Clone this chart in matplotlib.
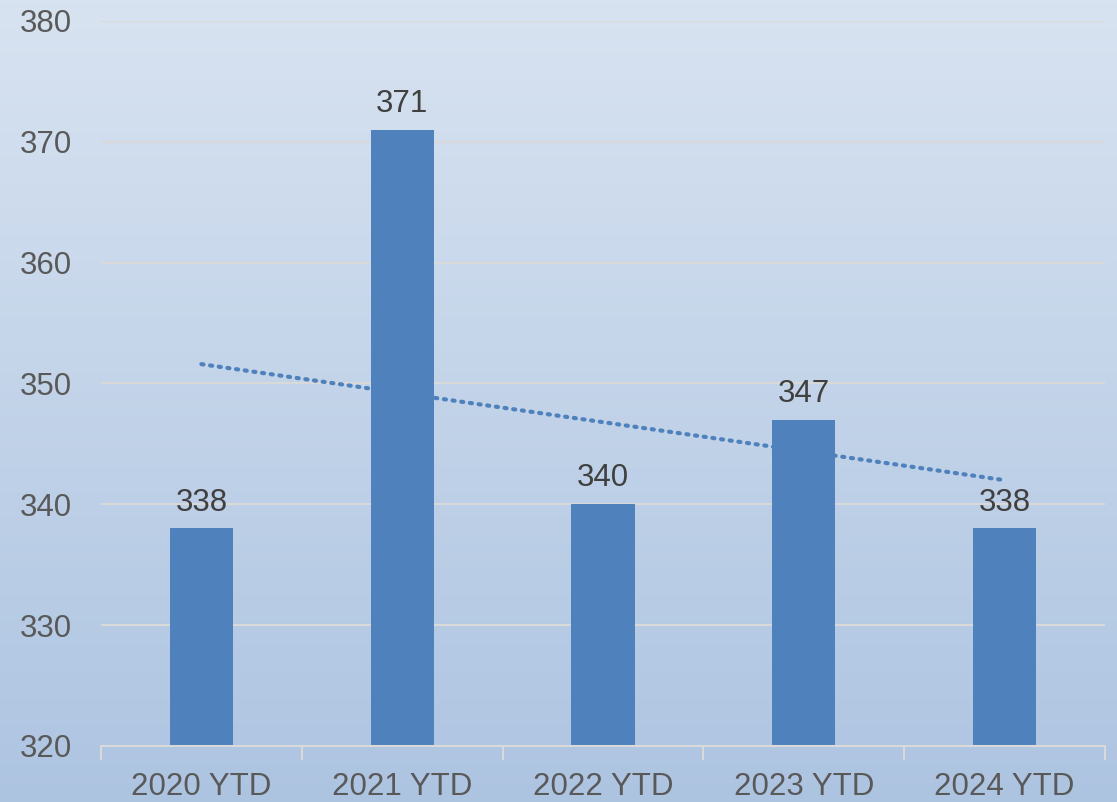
import numpy as np
import matplotlib.pyplot as plt
from matplotlib.colors import LinearSegmentedColormap

# Data
categories = ['2020 YTD', '2021 YTD', '2022 YTD', '2023 YTD', '2024 YTD']
values = [338, 371, 340, 347, 338]
y_ticks = [320, 330, 340, 350, 360, 370, 380]

plt.rcParams['font.family'] = ['Liberation Sans', 'DejaVu Sans']

fig = plt.figure(figsize=(11.17, 8.02), dpi=100)

# gradient background over the whole figure
bg = fig.add_axes([0, 0, 1, 1], zorder=-10)
cmap = LinearSegmentedColormap.from_list('bg', ['#d8e3f1', '#adc4e1'])
bg.imshow(np.linspace(0, 1, 256).reshape(-1, 1), aspect='auto', cmap=cmap,
          extent=[0, 1, 0, 1], origin='upper')
bg.axis('off')

ax = fig.add_axes([101 / 1117, 1 - 746 / 802, (1105 - 101) / 1117, (746 - 21) / 802])
ax.patch.set_alpha(0)

x = np.arange(len(categories))
ax.bar(x, [v - 320 for v in values], bottom=320, width=0.315, color='#4f81bd', zorder=3)

for xi, v in zip(x, values):
    ax.text(xi, v + 0.9, str(v), ha='center', va='bottom', fontsize=22.5, color='#404040', zorder=5)

# linear trendline
coef = np.polyfit(x, values, 1)
ax.plot(x, np.polyval(coef, x), linestyle=(0, (0.5, 1.6)), color='#4f81bd',
        linewidth=3, dash_capstyle='round', zorder=4)

ax.set_xlim(-0.5, len(categories) - 0.5)
ax.set_ylim(320, 380)
ax.set_yticks(y_ticks)
ax.set_yticklabels([str(t) for t in y_ticks])
ax.set_xticks(x)
ax.set_xticklabels(categories)
ax.set_xticks(np.arange(-0.5, len(categories)), minor=True)

ax.grid(axis='y', color='#d9d9d9', linewidth=1.5, zorder=0)
for s in ['top', 'right', 'left']:
    ax.spines[s].set_visible(False)
ax.spines['bottom'].set_color('#d9d9d9')
ax.spines['bottom'].set_linewidth(1.5)
ax.spines['bottom'].set_zorder(4)

ax.tick_params(axis='y', length=0, pad=21, labelsize=22.5, labelcolor='#595959')
ax.tick_params(axis='x', which='major', length=0, pad=19, labelsize=22.5, labelcolor='#595959')
ax.tick_params(axis='x', which='minor', length=10, width=1.5, color='#d9d9d9')

plt.savefig('out.png', dpi=100)
